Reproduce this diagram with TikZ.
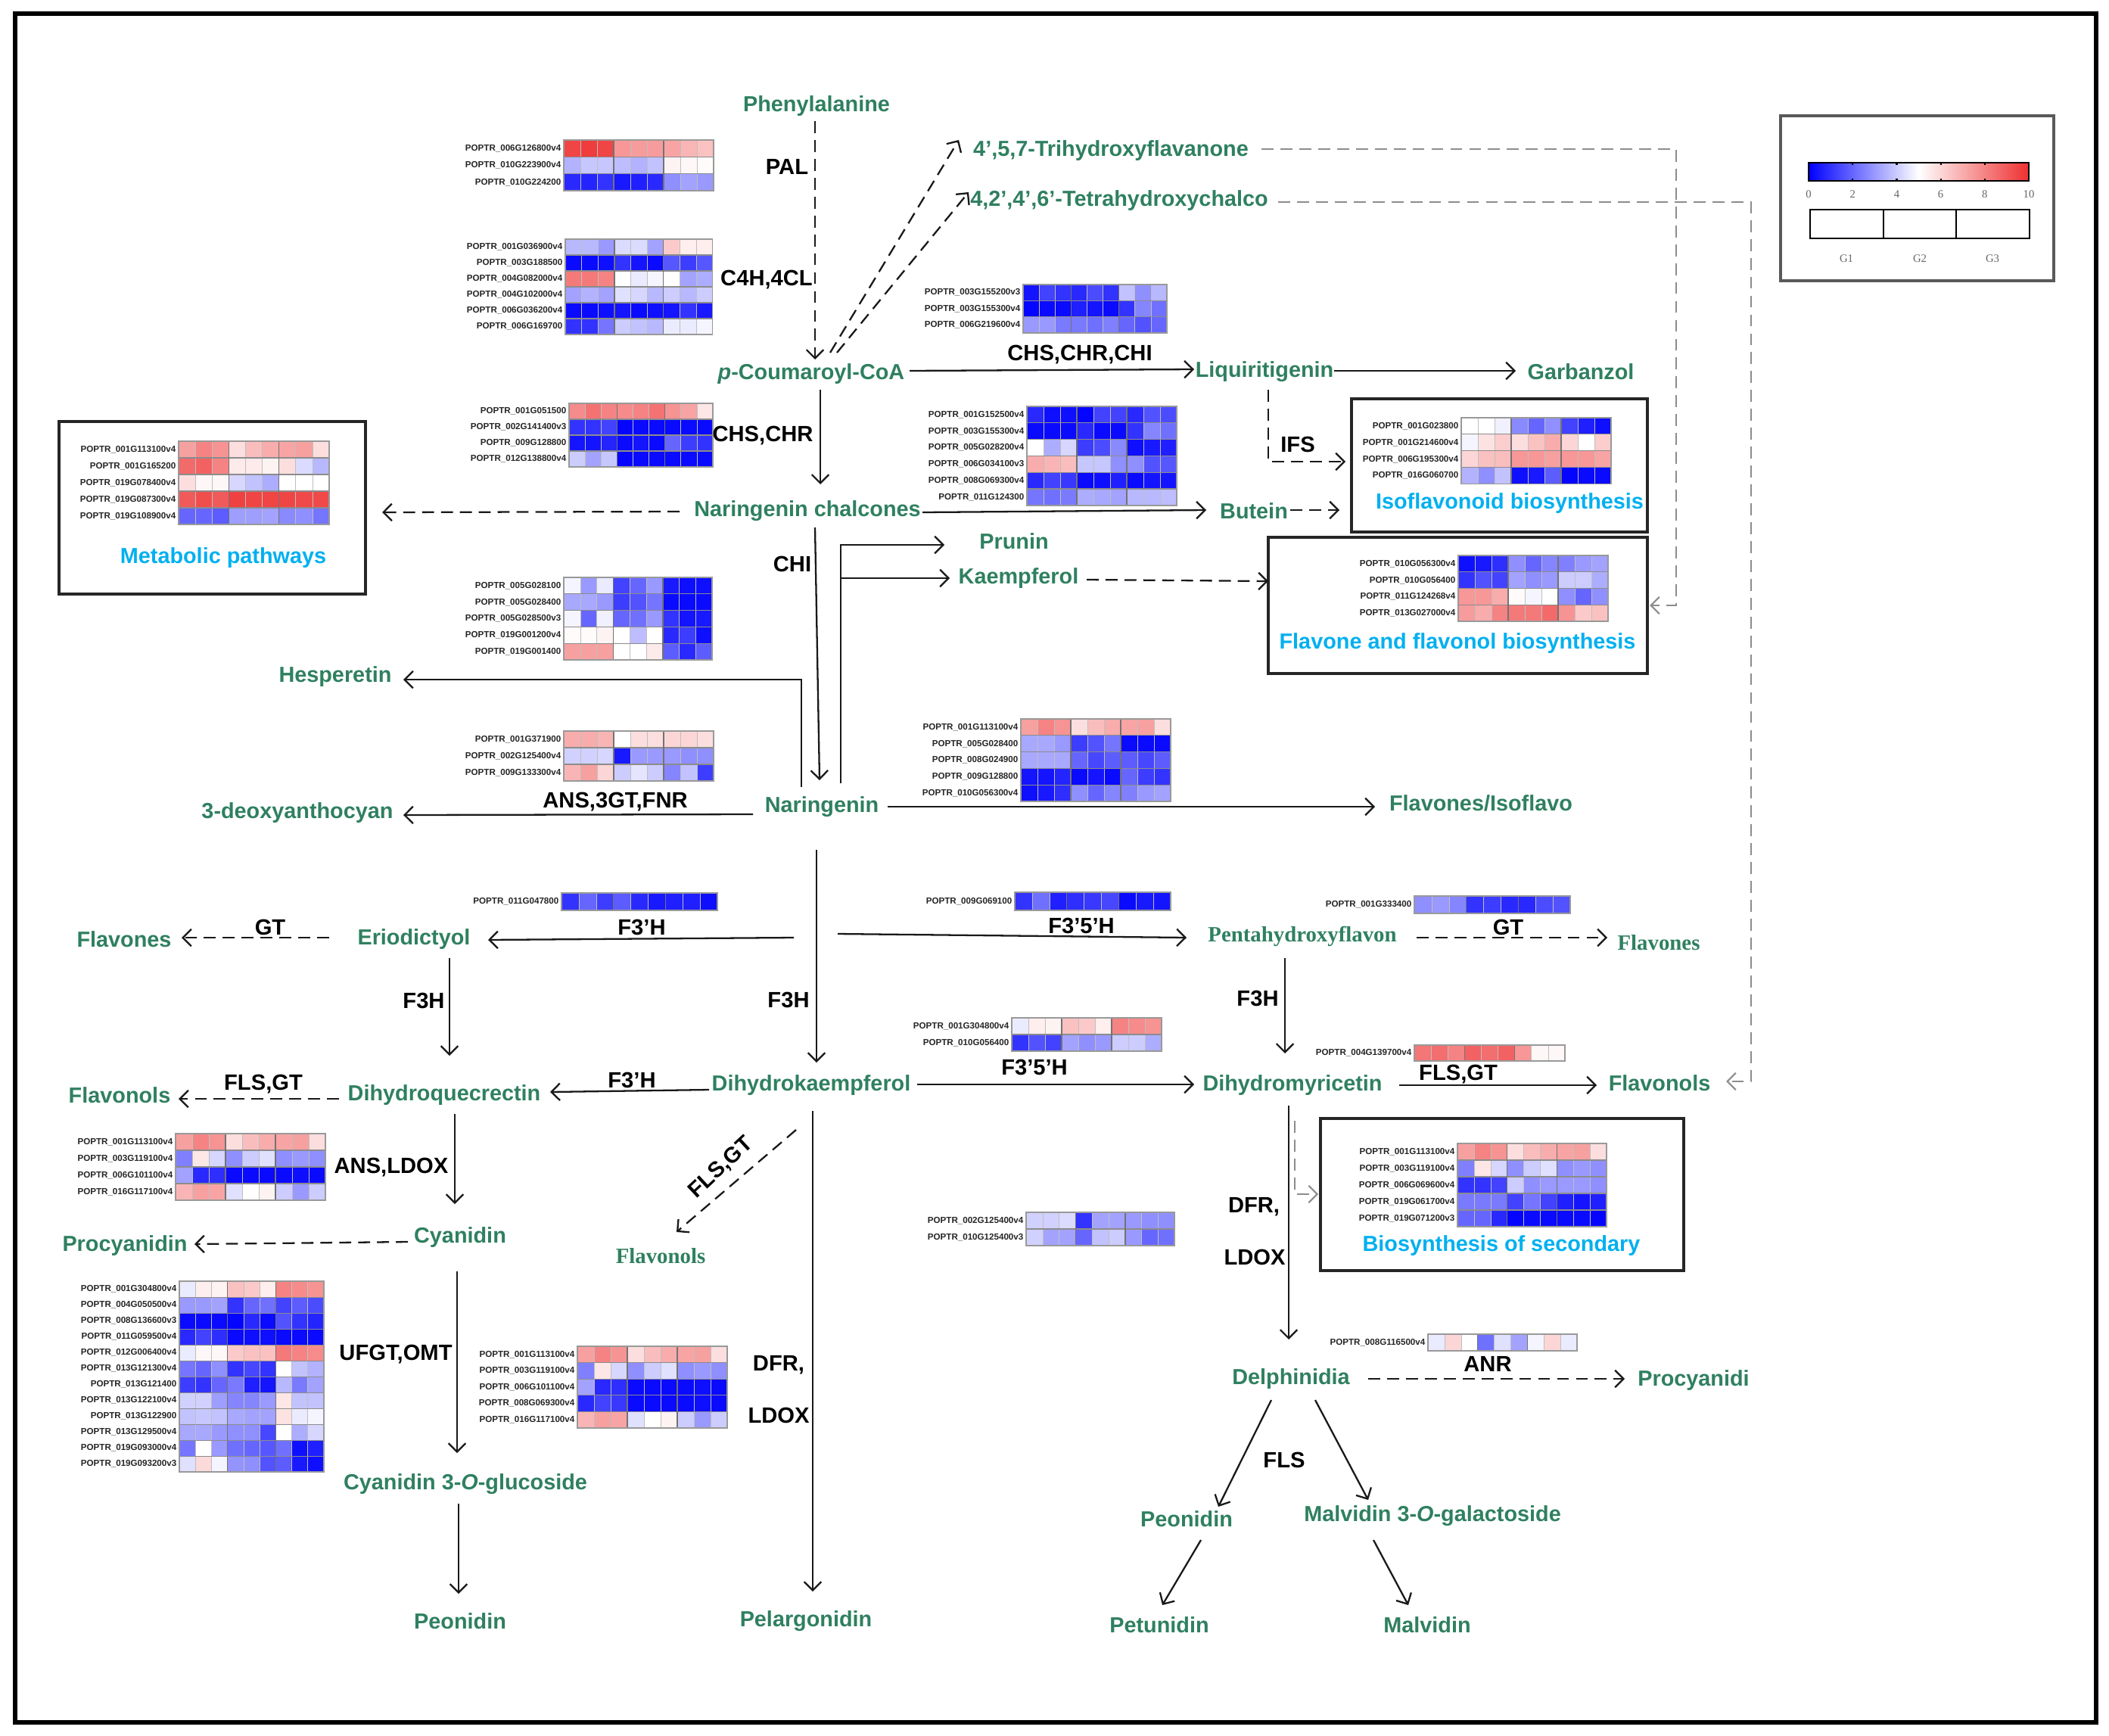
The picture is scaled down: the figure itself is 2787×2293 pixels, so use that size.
\documentclass[tikz,border=0pt]{standalone}
\usepackage{fontspec}
\setmainfont{Liberation Sans}
\newfontfamily\serifb{Liberation Serif}
\usetikzlibrary{arrows.meta}
\definecolor{hmlow}{RGB}{0,0,255}
\definecolor{hmhigh}{RGB}{238,48,48}
\definecolor{metgreen}{RGB}{47,128,96}
\definecolor{pwblue}{RGB}{0,176,240}
\newcommand\hmcolor[1]{%
 \pgfmathsetmacro\hmp{min(100,abs(5-#1)*20)}%
 \pgfmathtruncatemacro\hmneg{(#1<5)}%
 \ifnum\hmneg=1 \colorlet{hmc}{hmlow!\hmp!white}\else\colorlet{hmc}{hmhigh!\hmp!white}\fi}
% #1 name #2 x0 #3 y0 #4 cw #5 ch #6 nrows #7 rows
\newcommand\hmap[7]{%
 \foreach \lab/\va/\vb/\vc/\vd/\ve/\vf/\vg/\vh/\vi [count=\rr from 0] in {#7} {
   \foreach \vv [count=\kk from 0] in {\va,\vb,\vc,\vd,\ve,\vf,\vg,\vh,\vi} {
     \hmcolor{\vv}
     \fill[hmc] ({#2+\kk*#4-0.3},{#3+\rr*#5-0.3}) rectangle ({#2+(\kk+1)*#4+0.3},{#3+(\rr+1)*#5+0.3});
   }
   \node[gene,anchor=east] (#1-\rr) at ({#2-3},{#3+(\rr+0.5)*#5}) {\lab};
 }
 \foreach \kk in {1,2,4,5,7,8} \draw[cellln] ({#2+\kk*#4},#3) -- ({#2+\kk*#4},{#3+#6*#5});
 \foreach \rr in {1,...,#6} \draw[rowln] (#2,{#3+\rr*#5}) -- ({#2+9*#4},{#3+\rr*#5});
 \foreach \kk in {3,6} \draw[grpln] ({#2+\kk*#4},#3) -- ({#2+\kk*#4},{#3+#6*#5});
 \draw[hmout] (#2,#3) rectangle ({#2+9*#4},{#3+#6*#5});
}
\begin{document}
\begin{tikzpicture}[x=0.1mm,y=-0.1mm,
  met/.style={text=metgreen,font=\fontsize{8.2}{9}\selectfont\bfseries,inner sep=0pt},
  mets/.style={text=metgreen,font=\serifb\fontsize{8.2}{9}\selectfont\bfseries,inner sep=0pt},
  enz/.style={text=black,font=\fontsize{8.3}{9}\selectfont\bfseries,inner sep=0pt},
  pw/.style={text=pwblue,font=\fontsize{8.2}{9}\selectfont\bfseries,inner sep=0pt},
  gene/.style={text=black!85,font=\fontsize{3.3}{4}\selectfont\bfseries,inner sep=0pt},
  lgd/.style={text=black!60,font=\serifb\fontsize{4.2}{5}\selectfont,inner sep=0pt},
  cellln/.style={draw=black!25,line width=0.15pt},
  rowln/.style={draw=black!45,line width=0.3pt},
  grpln/.style={draw=black!55,line width=0.4pt},
  hmout/.style={draw=black!40,line width=0.5pt},
  boxln/.style={draw=black!85,line width=1pt},
  arr/.style={-{Straight Barb[length=3.2pt,width=6.4pt]},line width=0.65pt,draw=black!90},
  darr/.style={arr,dash pattern=on 4.5pt off 2.6pt},
  garr/.style={darr,draw=black!45,line width=0.6pt}]
\useasboundingbox (0,0) rectangle (2787,2293);
\fill[white] (0,0) rectangle (2787,2293);
\draw[line width=1.7pt] (20,18) rectangle (2770,2276);

% ---------- boxes ----------
\draw[boxln] (78,557) rectangle (483,785);
\draw[boxln] (1786,527) rectangle (2177,703);
\draw[boxln] (1676,710) rectangle (2177,890);
\draw[boxln] (1745,1478) rectangle (2225,1679);
\node[pw] (metab) at (295,737) {Metabolic pathways};
\node[pw] (isoflav) at (1995,665) {Isoflavonoid biosynthesis};
\node[pw] (flavbox) at (1926,850) {Flavone and flavonol biosynthesis};
\node[pw] (biosyn) at (1984,1646) {Biosynthesis of secondary};

% ---------- legend ----------
\draw[draw=black!65,line width=0.9pt] (2353,153) rectangle (2714,371);
\shade[left color=hmlow,right color=hmhigh,middle color=white] (2390,215) rectangle (2681,239);
\draw[line width=0.5pt] (2390,215) rectangle (2681,239);
\foreach \t in {1,2,3,4} {
  \draw[line width=0.6pt] ({2390+\t*58.2},215) -- ++(0,3);
  \draw[line width=0.6pt] ({2390+\t*58.2},239) -- ++(0,-3);}
\foreach \t in {0,2,4,6,8,10} \node[lgd] (lg\t) at ({2390+\t*29.1},257) {\t};
\draw[line width=0.6pt] (2392,277) rectangle (2682,315);
\draw[line width=0.6pt] (2489,277) -- (2489,315);
\draw[line width=0.6pt] (2585,277) -- (2585,315);
\node[lgd] (lgG1) at (2440,342) {G1};
\node[lgd] (lgG2) at (2537,342) {G2};
\node[lgd] (lgG3) at (2633,342) {G3};

% ---------- heatmaps ----------
\hmap{hA}{745}{185}{22}{22.3}{3}{
POPTR\_006G126800v4/9.5/9.7/9.5/7.5/7.4/7.4/7.2/6.8/6.5,
POPTR\_010G223900v4/3.5/3.9/3.9/3.7/3.5/3.8/5.3/5.2/5.1,
POPTR\_010G224200/0.8/0.7/1.0/0.5/0.6/0.8/2.8/3.2/3.0}
\hmap{hB}{747}{316}{21.6}{21}{6}{
POPTR\_001G036900v4/3.6/3.6/3.0/4.3/4.3/3.2/6.3/5.4/5.4,
POPTR\_003G188500/0.2/0.2/0.3/1.0/0.4/0.2/1.7/1.2/1.7,
POPTR\_004G082000v4/8.2/8.2/8.0/5.0/4.6/4.8/5.0/3.2/3.4,
POPTR\_004G102000v4/3.2/3.5/3.2/4.4/4.2/3.6/4.0/3.6/4.0,
POPTR\_006G036200v4/0.2/0.2/0.3/0.4/0.2/0.3/0.4/1.0/0.5,
POPTR\_006G169700/1.0/1.0/2.3/4.0/3.8/3.6/4.6/4.6/4.8}
\hmap{hC}{752}{533}{21.1}{21}{4}{
POPTR\_001G051500/7.8/8.4/8.0/7.8/8.0/8.4/7.6/7.2/5.6,
POPTR\_002G141400v3/1.0/1.0/1.3/0.1/0.2/0.2/0.2/0.2/0.2,
POPTR\_009G128800/0.4/0.4/0.7/0.2/0.4/0.2/2.0/1.2/1.0,
POPTR\_012G138800v4/4.0/3.2/3.9/0.1/0.2/0.2/0.2/0.2/0.2}
\hmap{hD}{745}{763}{21.8}{21.8}{5}{
POPTR\_005G028100/4.8/3.0/4.6/1.3/2.0/3.0/0.5/0.3/0.3,
POPTR\_005G028400/3.3/3.3/3.0/1.2/1.6/2.3/0.2/0.2/0.2,
POPTR\_005G028500v3/4.8/2.0/4.7/2.0/2.2/3.0/1.0/0.4/0.5,
POPTR\_019G001200v4/5.1/5.1/5.3/5.0/3.7/5.0/0.8/1.2/0.3,
POPTR\_019G001400/7.3/7.3/7.3/5.0/5.0/5.5/1.8/0.8/1.8}
\hmap{hE}{745}{966}{22}{22}{3}{
POPTR\_001G371900/7.0/7.0/6.8/5.0/5.8/5.8/6.0/6.0/5.8,
POPTR\_002G125400v4/4.1/4.1/4.2/0.5/3.0/3.0/3.0/2.8/2.8,
POPTR\_009G133300v4/6.8/7.3/6.0/4.0/4.5/4.0/2.6/3.8/1.2}
\hmap{hF}{742}{1180}{22.9}{23}{1}{
POPTR\_011G047800/1.0/2.0/1.2/1.8/0.8/0.5/0.6/0.6/0.3}
\hmap{hG}{236}{583}{22.1}{22}{5}{
POPTR\_001G113100v4/7.3/8.0/7.6/5.8/6.6/7.0/7.2/7.3/5.8,
POPTR\_001G165200/8.6/8.8/8.0/5.5/5.5/5.3/5.8/4.3/3.6,
POPTR\_019G078400v4/5.8/5.2/5.2/4.2/3.8/3.4/5.0/5.0/5.0,
POPTR\_019G087300v4/9.0/9.3/9.0/9.6/9.5/9.5/9.5/9.4/9.4,
POPTR\_019G108900v4/2.0/2.0/1.8/3.1/3.1/3.2/2.7/2.8/2.3}
\hmap{hH}{1352}{376}{21.1}{21.3}{3}{
POPTR\_003G155200v3/0.4/1.3/1.0/0.8/1.5/1.0/3.8/2.8/3.6,
POPTR\_003G155300v4/0.1/0.2/0.2/0.6/0.4/0.2/1.0/2.6/2.2,
POPTR\_006G219600v4/3.0/3.0/2.4/2.4/2.2/2.5/2.0/1.6/2.0}
\hmap{hI}{1357}{537}{22}{21.8}{6}{
POPTR\_001G152500v4/0.8/0.3/0.3/0.1/1.3/1.3/0.8/1.6/1.5,
POPTR\_003G155300v4/0.2/0.2/0.2/0.8/0.2/0.2/1.0/2.6/2.2,
POPTR\_005G028200v4/5.0/3.4/4.2/1.2/1.5/2.7/0.3/0.5/0.6,
POPTR\_006G034100v3/7.0/6.8/6.6/3.9/3.9/2.8/2.8/1.6/1.7,
POPTR\_008G069300v4/0.8/1.3/1.1/0.2/0.3/0.6/0.2/0.4/0.4,
POPTR\_011G124300/2.3/2.2/2.4/3.4/3.3/3.2/3.6/3.6/3.7}
\hmap{hJ}{1931}{552}{22}{21.9}{4}{
POPTR\_001G023800/5.0/5.0/4.7/2.7/2.0/2.8/1.3/0.6/0.3,
POPTR\_001G214600v4/4.8/5.7/6.2/5.8/6.5/7.0/6.0/5.0/6.2,
POPTR\_006G195300v4/6.0/6.5/6.6/7.5/7.5/7.3/7.5/7.5/7.2,
POPTR\_016G060700/3.5/2.8/3.8/0.3/0.5/1.8/0.1/0.2/0.2}
\hmap{hK}{1927}{734}{22}{21.8}{4}{
POPTR\_010G056300v4/0.3/0.5/0.9/2.8/2.0/2.6/2.5/3.0/3.2,
POPTR\_010G056400/1.0/1.6/1.3/3.2/2.8/3.0/4.0/4.0/3.4,
POPTR\_011G124268v4/7.5/7.5/7.0/5.1/4.8/5.0/2.8/2.0/2.8,
POPTR\_013G027000v4/7.4/7.0/8.0/8.2/8.2/8.6/7.6/6.3/6.5}
\hmap{hL}{1349}{950}{22}{21.8}{5}{
POPTR\_001G113100v4/7.3/8.0/7.6/5.8/6.6/7.0/7.2/7.3/5.8,
POPTR\_005G028400/3.3/3.3/3.0/1.2/1.6/2.3/0.2/0.2/0.2,
POPTR\_008G024900/3.3/3.3/3.3/2.0/1.4/1.8/1.8/1.4/1.8,
POPTR\_009G128800/0.4/0.4/0.7/0.2/0.4/0.2/2.0/1.2/1.0,
POPTR\_010G056300v4/0.3/0.5/0.9/2.8/2.0/2.6/2.5/3.0/3.2}
\hmap{hM}{1341}{1179}{22.9}{24}{1}{
POPTR\_009G069100/1.0/2.2/0.6/0.9/1.1/1.4/0.2/0.5/0.4}
\hmap{hN}{1337}{1345}{22}{22}{2}{
POPTR\_001G304800v4/4.6/5.4/5.3/6.5/6.3/5.4/8.0/7.8/7.6,
POPTR\_010G056400/1.0/1.6/1.3/3.2/2.8/3.0/4.0/4.0/3.4}
\hmap{hO}{1869}{1184}{22.9}{23}{1}{
POPTR\_001G333400/2.8/3.0/2.6/1.0/1.2/0.8/0.8/1.5/1.6}
\hmap{hP}{1869}{1381}{22.1}{21}{1}{
POPTR\_004G139700v4/8.3/8.5/8.0/8.8/8.5/8.8/7.5/5.2/5.2}
\hmap{hQ}{232}{1498}{22}{22}{4}{
POPTR\_001G113100v4/7.3/8.0/7.6/5.8/6.6/7.0/7.2/7.3/5.8,
POPTR\_003G119100v4/2.5/5.6/4.2/2.8/4.0/4.4/2.8/3.0/2.8,
POPTR\_006G101100v4/3.2/0.8/0.9/0.2/0.2/0.2/0.2/0.3/0.2,
POPTR\_016G117100v4/6.8/7.3/7.2/4.4/5.0/5.3/4.0/3.0/4.0}
\hmap{hR}{237}{1693}{21.2}{21}{12}{
POPTR\_001G304800v4/4.6/5.4/5.3/6.5/6.3/5.4/8.0/7.8/7.6,
POPTR\_004G050500v4/3.0/3.0/3.2/1.0/2.0/2.2/1.3/1.8/1.5,
POPTR\_008G136600v3/0.2/0.2/0.2/0.1/0.8/0.2/1.6/1.0/0.7,
POPTR\_011G059500v4/0.8/1.3/0.9/0.2/0.3/0.3/0.2/0.2/0.2,
POPTR\_012G006400v4/4.6/5.2/5.2/6.3/6.5/6.5/8.2/8.0/7.8,
POPTR\_013G121300v4/2.3/2.0/2.8/1.0/1.4/1.0/5.0/3.8/3.5,
POPTR\_013G121400/1.2/1.0/2.0/2.4/0.6/0.4/3.6/2.4/3.2,
POPTR\_013G122100v4/4.1/4.1/3.1/2.6/2.6/3.0/5.6/3.8/3.8,
POPTR\_013G122900/3.8/3.9/3.8/3.3/3.2/3.2/5.7/4.6/4.8,
POPTR\_013G129500v4/3.3/3.3/3.0/2.8/2.8/1.4/5.0/3.4/4.2,
POPTR\_019G093000v4/2.3/5.0/3.0/2.2/2.0/1.7/2.2/0.3/0.6,
POPTR\_019G093200v3/4.4/5.9/4.8/2.9/2.8/1.6/1.8/0.5/0.3}
\hmap{hS}{763}{1779}{22}{21.6}{5}{
POPTR\_001G113100v4/7.3/8.0/7.6/5.8/6.6/7.0/7.2/7.3/5.8,
POPTR\_003G119100v4/2.5/5.6/4.2/2.8/4.0/4.4/2.8/3.0/2.8,
POPTR\_006G101100v4/3.2/0.8/0.9/0.2/0.2/0.2/0.2/0.3/0.2,
POPTR\_008G069300v4/0.8/1.3/1.1/0.2/0.2/0.2/0.2/0.3/0.2,
POPTR\_016G117100v4/6.8/7.3/7.2/4.4/5.0/5.3/4.0/3.0/4.0}
\hmap{hT}{1356}{1602}{21.8}{22}{2}{
POPTR\_002G125400v4/4.1/4.1/4.3/1.0/3.2/3.2/3.0/2.8/2.8,
POPTR\_010G125400v3/4.1/3.2/3.2/2.0/3.8/4.0/3.0/2.0/2.2}
\hmap{hU}{1926}{1511}{21.9}{22}{5}{
POPTR\_001G113100v4/7.3/8.0/7.6/5.8/6.6/7.0/7.2/7.3/5.8,
POPTR\_003G119100v4/2.5/5.6/4.2/2.8/4.0/4.4/2.8/3.0/2.8,
POPTR\_006G069600v4/1.0/1.0/1.3/4.0/2.8/3.0/3.0/3.0/2.8,
POPTR\_019G061700v4/2.4/2.4/2.4/1.3/2.3/1.3/0.6/0.4/0.6,
POPTR\_019G071200v3/2.0/2.0/0.8/0.1/0.2/0.2/0.2/0.2/0.1}
\hmap{hV}{1887}{1763}{21.9}{22}{1}{
POPTR\_008G116500v4/4.6/6.0/5.0/2.2/4.4/3.2/4.8/6.0/4.6}

% ---------- metabolites ----------
\node[met] (phe) at (1079,140) {Phenylalanine};
\node[met] (pcoa) at (1072,494) {\textit{p}-Coumaroyl-CoA};
\node[met] (tri) at (1468,199) {4',5,7-Trihydroxyflavanone};
\node[met] (tetra) at (1479,265) {4,2',4',6'-Tetrahydroxychalco};
\node[met] (liq) at (1671,491) {Liquiritigenin};
\node[met] (garb) at (2089,491) {Garbanzol};
\node[met] (narc) at (1067,675) {Naringenin chalcones};
\node[met] (butein) at (1657,675) {Butein};
\node[met] (prunin) at (1340,715) {Prunin};
\node[met] (kaem) at (1346,764) {Kaempferol};
\node[met] (hesp) at (443,894) {Hesperetin};
\node[met] (deoxy) at (393,1074) {3-deoxyanthocyan};
\node[met] (nar) at (1086,1066) {Naringenin};
\node[met] (flaviso) at (1957,1061) {Flavones/Isoflavo};
\node[met] (flavL) at (164,1241) {Flavones};
\node[met] (erio) at (547,1241) {Eriodictyol};
\node[mets] (penta) at (1721,1237) {Pentahydroxyflavon};
\node[mets] (flavR) at (2192,1246) {Flavones};
\node[met] (flvlL) at (158,1447) {Flavonols};
\node[met] (dhq) at (587,1447) {Dihydroquecrectin};
\node[met] (dhk) at (1072,1434) {Dihydrokaempferol};
\node[met] (dhm) at (1708,1434) {Dihydromyricetin};
\node[met] (flvlR) at (2193,1431) {Flavonols};
\node[mets] (flvlC) at (873,1660) {Flavonols};
\node[met] (procyL) at (165,1646) {Procyanidin};
\node[met] (cyan) at (608,1635) {Cyanidin};
\node[met] (delph) at (1706,1822) {Delphinidia};
\node[met] (procyR) at (2238,1824) {Procyanidi};
\node[met] (c3g) at (615,1961) {Cyanidin 3-\textit{O}-glucoside};
\node[met] (peoR) at (1568,2007) {Peonidin};
\node[met] (m3og) at (1893,2003) {Malvidin 3-\textit{O}-galactoside};
\node[met] (peoL) at (608,2142) {Peonidin};
\node[met] (pelarg) at (1065,2142) {Pelargonidin};
\node[met] (petun) at (1532,2147) {Petunidin};
\node[met] (malv) at (1886,2147) {Malvidin};

% ---------- enzymes ----------
\node[enz] (pal) at (1040,220) {PAL};
\node[enz] (c4h) at (1013,370) {C4H,4CL};
\node[enz] (chschrchi) at (1427,469) {CHS,CHR,CHI};
\node[enz] (chschr) at (1008,576) {CHS,CHR};
\node[enz] (ifs) at (1715,587) {IFS};
\node[enz] (chi) at (1047,745) {CHI};
\node[enz] (ans3gt) at (813,1060) {ANS,3GT,FNR};
\node[enz] (gtL) at (357,1225) {GT};
\node[enz] (f3pA) at (848,1225) {F3'H};
\node[enz] (f35A) at (1429,1223) {F3'5'H};
\node[enz] (gtR) at (1993,1225) {GT};
\node[enz] (f3hL) at (560,1322) {F3H};
\node[enz] (f3hC) at (1042,1321) {F3H};
\node[enz] (f3hR) at (1662,1319) {F3H};
\node[enz] (flsgtL) at (348,1433) {FLS,GT};
\node[enz] (f3pB) at (835,1427) {F3'H};
\node[enz] (f35B) at (1367,1410) {F3'5'H};
\node[enz] (flsgtR) at (1927,1420) {FLS,GT};
\node[enz] (ansldox) at (517,1543) {ANS,LDOX};
\node[enz,rotate=43] (flsgtC) at (953,1543) {FLS,GT};
\node[enz] (dfrR) at (1657,1595) {DFR,};
\node[enz] (ldoxR) at (1658,1661) {LDOX};
\node[enz] (ufgt) at (523,1790) {UFGT,OMT};
\node[enz] (dfrC) at (1029,1804) {DFR,};
\node[enz] (ldoxC) at (1029,1870) {LDOX};
\node[enz] (anr) at (1966,1802) {ANR};
\node[enz] (fls) at (1697,1929) {FLS};

% ---------- connector end points ----------
\coordinate (pA) at (1077,160);  \coordinate (pB) at (1077,475);
\coordinate (tA) at (1097,466);  \coordinate (tB) at (1267,185);
\coordinate (uA) at (1106,466);  \coordinate (uB) at (1280,254);
\coordinate (lA) at (1202,490);  \coordinate (lB) at (1578,488);
\coordinate (gA) at (1763,490);  \coordinate (gB) at (2003,490);
\coordinate (iA) at (1676,515);  \coordinate (iC) at (1778,610);
\coordinate (cA) at (1084,515);  \coordinate (cB) at (1084,640);
\coordinate (mA) at (898,676);   \coordinate (mB) at (505,677);
\coordinate (bA) at (1219,677);  \coordinate (bB) at (1594,674);
\coordinate (bC) at (1705,674);  \coordinate (bD) at (1770,674);
\coordinate (nA) at (1077,697);  \coordinate (nB) at (1083,1031);
\coordinate (hA) at (1059,1040); \coordinate (hB) at (1059,898); \coordinate (hC) at (533,898);
\coordinate (kA) at (1111,1035); \coordinate (kB) at (1111,720); \coordinate (kC) at (1248,720);
\coordinate (kD) at (1111,764);  \coordinate (kE) at (1255,764);
\coordinate (kF) at (1436,766);  \coordinate (kG) at (1676,768);
\coordinate (rA) at (1667,197);  \coordinate (rB) at (2215,197); \coordinate (rC) at (2215,800); \coordinate (rD) at (2180,800);
\coordinate (sA) at (1689,267);  \coordinate (sB) at (2314,267); \coordinate (sC) at (2314,1429); \coordinate (sD) at (2281,1429);
\coordinate (dA) at (995,1076);  \coordinate (dB) at (533,1077);
\coordinate (fA) at (1173,1066); \coordinate (fB) at (1817,1066);
\coordinate (nC) at (1079,1123); \coordinate (nD) at (1079,1404);
\coordinate (eA) at (1049,1239); \coordinate (eB) at (645,1242);
\coordinate (qA) at (1107,1234); \coordinate (qB) at (1568,1239);
\coordinate (eC) at (435,1239);  \coordinate (eD) at (240,1239);
\coordinate (eE) at (594,1266);  \coordinate (eF) at (594,1395);
\coordinate (qC) at (1872,1239); \coordinate (qD) at (2124,1239);
\coordinate (qE) at (1698,1266); \coordinate (qF) at (1698,1392);
\coordinate (kH) at (937,1440);  \coordinate (kI) at (727,1443);
\coordinate (kJ) at (1212,1433); \coordinate (kK) at (1578,1433);
\coordinate (mC) at (1849,1434); \coordinate (mD) at (2110,1434);
\coordinate (qG) at (448,1452);  \coordinate (qH) at (236,1452);
\coordinate (qI) at (601,1472);  \coordinate (qJ) at (601,1591);
\coordinate (kL) at (1052,1493); \coordinate (kM) at (894,1628);
\coordinate (kN) at (1074,1468); \coordinate (kO) at (1074,2103);
\coordinate (yA) at (539,1641);  \coordinate (yB) at (257,1644);
\coordinate (yC) at (604,1680);  \coordinate (yD) at (604,1920);
\coordinate (yE) at (606,1987);  \coordinate (yF) at (606,2106);
\coordinate (mE) at (1703,1461); \coordinate (mF) at (1703,1770);
\coordinate (mG) at (1711,1481); \coordinate (mH) at (1711,1578); \coordinate (mI) at (1742,1578);
\coordinate (pC) at (1808,1822); \coordinate (pD) at (2147,1822);
\coordinate (pE) at (1680,1850); \coordinate (pF) at (1610,1991);
\coordinate (pG) at (1738,1850); \coordinate (pH) at (1808,1982);
\coordinate (pI) at (1587,2035); \coordinate (pJ) at (1536,2121);
\coordinate (pK) at (1815,2035); \coordinate (pL) at (1861,2121);

% ---------- connectors ----------
\draw[darr] (pA) -- (pB);
\draw[darr] (tA) -- (tB);
\draw[darr] (uA) -- (uB);
\draw[arr] (lA) -- (lB);
\draw[arr] (gA) -- (gB);
\draw[darr] (iA) |- (iC);
\draw[arr] (cA) -- (cB);
\draw[darr] (mA) -- (mB);
\draw[arr] (bA) -- (bB);
\draw[darr] (bC) -- (bD);
\draw[arr] (nA) -- (nB);
\draw[arr] (hA) -- (hB) -- (hC);
\draw[arr] (kA) -- (kB) -- (kC);
\draw[arr] (kD) -- (kE);
\draw[darr] (kF) -- (kG);
\draw[garr] (rA) -- (rB) -- (rC) -- (rD);
\draw[garr] (sA) -- (sB) -- (sC) -- (sD);
\draw[arr] (dA) -- (dB);
\draw[arr] (fA) -- (fB);
\draw[arr] (nC) -- (nD);
\draw[arr] (eA) -- (eB);
\draw[arr] (qA) -- (qB);
\draw[darr] (eC) -- (eD);
\draw[arr] (eE) -- (eF);
\draw[darr] (qC) -- (qD);
\draw[arr] (qE) -- (qF);
\draw[arr] (kH) -- (kI);
\draw[arr] (kJ) -- (kK);
\draw[arr] (mC) -- (mD);
\draw[darr] (qG) -- (qH);
\draw[arr] (qI) -- (qJ);
\draw[darr] (kL) -- (kM);
\draw[arr] (kN) -- (kO);
\draw[darr] (yA) -- (yB);
\draw[arr] (yC) -- (yD);
\draw[arr] (yE) -- (yF);
\draw[arr] (mE) -- (mF);
\draw[garr] (mG) -- (mH) -- (mI);
\draw[darr] (pC) -- (pD);
\draw[arr] (pE) -- (pF);
\draw[arr] (pG) -- (pH);
\draw[arr] (pI) -- (pJ);
\draw[arr] (pK) -- (pL);
\end{tikzpicture}
\end{document}
